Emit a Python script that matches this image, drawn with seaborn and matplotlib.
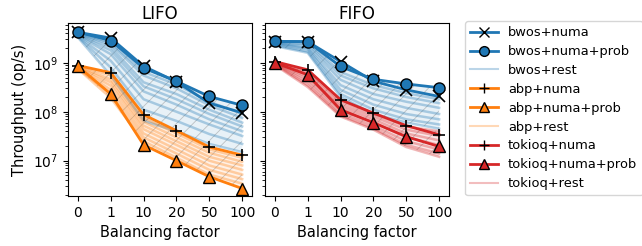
import numpy as np
import pandas as pd
import seaborn as sns
import matplotlib
matplotlib.use("Agg")
import matplotlib.pyplot as plt
from matplotlib.lines import Line2D

# x categories (balancing factor)
factors = ["0", "1", "10", "20", "50", "100"]

# ---- LIFO panel ----
lifo_bwos_numa = [4.2e9, 3.2e9, 8.5e8, 4.1e8, 1.5e8, 9.5e7]
lifo_bwos_numa_prob = [4.2e9, 2.85e9, 7.8e8, 4.2e8, 2.05e8, 1.35e8]
lifo_bwos_rest = [
    [4.0e9, 2.6e9, 6.5e8, 3.6e8, 1.6e8, 9.0e7],
    [3.9e9, 2.4e9, 5.5e8, 3.0e8, 1.35e8, 7.5e7],
    [3.8e9, 2.1e9, 4.0e8, 2.3e8, 1.1e8, 6.0e7],
    [3.7e9, 1.8e9, 3.3e8, 1.8e8, 9.0e7, 5.0e7],
    [3.6e9, 1.5e9, 2.6e8, 1.4e8, 7.0e7, 4.0e7],
    [3.5e9, 1.1e9, 1.8e8, 1.0e8, 5.5e7, 3.2e7],
    [3.4e9, 8.0e8, 1.1e8, 6.5e7, 3.5e7, 2.2e7],
    [3.3e9, 5.5e8, 6.5e7, 4.0e7, 2.2e7, 1.5e7],
]
lifo_abp_numa = [8.8e8, 6.3e8, 8.7e7, 4.1e7, 1.9e7, 1.3e7]
lifo_abp_numa_prob = [8.5e8, 2.3e8, 2.1e7, 1.0e7, 4.7e6, 2.7e6]
lifo_abp_rest = [
    [8.8e8, 5.5e8, 7.5e7, 3.6e7, 1.7e7, 1.15e7],
    [8.5e8, 4.6e8, 6.2e7, 3.0e7, 1.45e7, 9.5e6],
    [8.3e8, 4.0e8, 5.2e7, 2.5e7, 1.2e7, 8.0e6],
    [8.0e8, 3.4e8, 4.4e7, 2.1e7, 1.0e7, 6.5e6],
    [7.8e8, 2.8e8, 3.6e7, 1.7e7, 8.0e6, 5.2e6],
    [7.6e8, 2.3e8, 3.0e7, 1.4e7, 6.5e6, 4.2e6],
    [7.5e8, 1.9e8, 2.5e7, 1.15e7, 5.2e6, 3.4e6],
]

# ---- FIFO panel ----
fifo_bwos_numa = [2.7e9, 2.7e9, 1.06e9, 4.2e8, 2.8e8, 2.05e8]
fifo_bwos_numa_prob = [2.75e9, 2.7e9, 8.4e8, 4.6e8, 3.7e8, 3.1e8]
fifo_bwos_rest = [
    [2.7e9, 2.6e9, 6.5e8, 3.5e8, 2.4e8, 1.8e8],
    [2.6e9, 2.4e9, 5.5e8, 3.0e8, 2.0e8, 1.5e8],
    [2.5e9, 2.2e9, 4.5e8, 2.3e8, 1.6e8, 1.2e8],
    [2.5e9, 2.0e9, 3.5e8, 1.8e8, 1.2e8, 9.0e7],
    [2.4e9, 1.9e9, 2.8e8, 1.4e8, 9.0e7, 7.0e7],
    [2.3e9, 1.7e9, 2.3e8, 1.1e8, 7.0e7, 5.5e7],
    [2.2e9, 1.6e9, 2.0e8, 9.0e7, 6.0e7, 4.5e7],
]
fifo_tokioq_numa = [1.06e9, 7.2e8, 1.76e8, 9.4e7, 5.2e7, 3.4e7]
fifo_tokioq_numa_prob = [1.0e9, 5.7e8, 1.1e8, 6.0e7, 3.1e7, 1.95e7]
fifo_tokioq_rest = [
    [1.0e9, 6.8e8, 1.6e8, 9.0e7, 5.0e7, 4.0e7],
    [1.0e9, 6.0e8, 1.4e8, 8.0e7, 4.3e7, 3.2e7],
    [9.8e8, 5.2e8, 1.25e8, 7.0e7, 3.6e7, 2.6e7],
    [9.6e8, 4.6e8, 1.1e8, 6.0e7, 3.0e7, 2.1e7],
    [9.5e8, 4.0e8, 9.5e7, 5.2e7, 2.5e7, 1.7e7],
    [9.3e8, 3.5e8, 8.5e7, 4.6e7, 2.1e7, 1.4e7],
    [9.0e8, 3.2e8, 8.0e7, 4.3e7, 1.9e7, 1.2e7],
]

BLUE, ORANGE, RED = "#1f77b4", "#ff7f0e", "#d62728"

# (family, color, numa, numa+prob, rest, prob marker)
panels = [
    ("LIFO", [
        ("bwos", BLUE, lifo_bwos_numa, lifo_bwos_numa_prob, lifo_bwos_rest, "o"),
        ("abp", ORANGE, lifo_abp_numa, lifo_abp_numa_prob, lifo_abp_rest, "^"),
    ]),
    ("FIFO", [
        ("bwos", BLUE, fifo_bwos_numa, fifo_bwos_numa_prob, fifo_bwos_rest, "o"),
        ("tokioq", RED, fifo_tokioq_numa, fifo_tokioq_numa_prob, fifo_tokioq_rest, "^"),
    ]),
]

numa_marker = {"bwos": "x", "abp": "+", "tokioq": "+"}

plt.rcParams["hatch.linewidth"] = 0.6

fig, axes = plt.subplots(1, 2, figsize=(6.42, 2.46), dpi=100, sharey=True)
fig.subplots_adjust(left=68 / 642, right=449 / 642, top=1 - 23 / 246,
                    bottom=1 - 196 / 246, wspace=0.07)

xpos = np.arange(len(factors))

for ax, (title, families) in zip(axes, panels):
    for fam, color, numa, prob, rest, pmark in families:
        for r in rest:
            sns.lineplot(x=xpos, y=r, ax=ax, color=color, alpha=0.33, lw=1.8,
                         zorder=2)
        allv = np.array([numa, prob] + rest)
        ax.fill_between(xpos, allv.min(axis=0), allv.max(axis=0),
                        facecolor=matplotlib.colors.to_rgba(color, 0.1),
                        edgecolor=(0.45, 0.45, 0.45, 0.4), hatch="//",
                        linewidth=0, zorder=1)
    for fam, color, numa, prob, rest, pmark in families:
        sns.lineplot(x=xpos, y=numa, ax=ax, color=color, lw=2,
                     marker=numa_marker[fam], markersize=9,
                     markeredgecolor="black", markeredgewidth=1.2, zorder=4)
        sns.lineplot(x=xpos, y=prob, ax=ax, color=color, lw=2,
                     marker=pmark, markersize=8, markerfacecolor=color,
                     markeredgecolor="black", markeredgewidth=1.0, zorder=5)
    ax.set_yscale("log")
    ax.set_ylim(1.9e6, 6.5e9)
    ax.set_xticks(xpos)
    ax.set_xticklabels(factors, fontsize=10)
    ax.tick_params(axis="y", labelsize=10)
    ax.set_xlim(-0.3, 5.3)
    ax.set_title(title, fontsize=12, pad=3)
    ax.set_xlabel("Balancing factor", fontsize=10.5)

axes[0].set_ylabel("Throughput (op/s)", fontsize=10.5)

# legend handles
handles, labels = [], []
for fam, color, pmark in [("bwos", BLUE, "o"), ("abp", ORANGE, "^"), ("tokioq", RED, "^")]:
    handles.append(Line2D([], [], color=color, lw=2, marker=numa_marker[fam],
                          markersize=7, markeredgecolor="black"))
    labels.append(f"{fam}+numa")
    handles.append(Line2D([], [], color=color, lw=2, marker=pmark, markersize=7,
                          markerfacecolor=color, markeredgecolor="black"))
    labels.append(f"{fam}+numa+prob")
    handles.append(Line2D([], [], color=color, lw=1.5, alpha=0.3))
    labels.append(f"{fam}+rest")

fig.legend(handles, labels, loc="upper left",
           bbox_to_anchor=(465 / 642, 1 - 21 / 246), fontsize=9.4,
           labelspacing=0.45, handlelength=2.1, borderaxespad=0)

fig.savefig("out.png", dpi=100)
